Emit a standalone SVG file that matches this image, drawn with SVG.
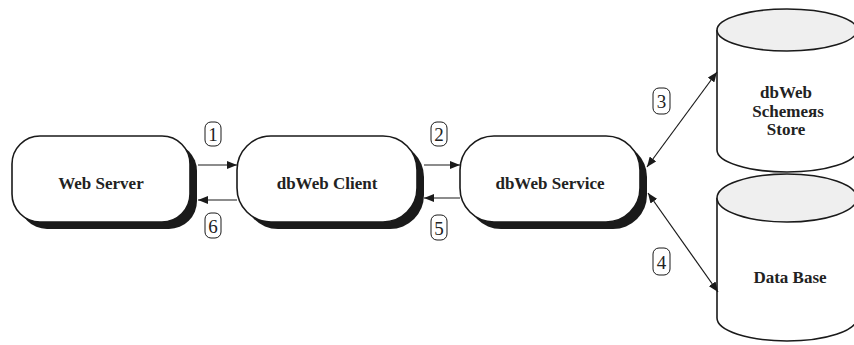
<svg xmlns="http://www.w3.org/2000/svg" width="854" height="345" viewBox="0 0 854 345">
<style>
.box{fill:#fff;stroke:#1a1a1a;stroke-width:1.6}
.sh{fill:#1a1a1a}
.t{font-family:"Liberation Serif","Times New Roman",serif;font-weight:bold;font-size:17px;fill:#222;text-anchor:middle}
.cyl{fill:#fff;stroke:#1a1a1a;stroke-width:1.6}
.top{fill:#efefef;stroke:#1a1a1a;stroke-width:1.6}
.ln{stroke:#1a1a1a;stroke-width:1.2;fill:none}
.lb{fill:#fff;stroke:#1a1a1a;stroke-width:1}
.n{font-family:"Liberation Serif","Times New Roman",serif;font-size:19px;fill:#222;text-anchor:middle}
</style>
<defs>
<marker id="ah" viewBox="0 0 10 8" refX="10" refY="4" markerWidth="10" markerHeight="8" markerUnits="userSpaceOnUse" orient="auto-start-reverse">
<path d="M0,0 L10,4 L0,8 z" fill="#1a1a1a"/>
</marker>
</defs>
<g id="web-server">
<rect class="sh" x="19" y="143" width="178" height="86" rx="28"/>
<rect class="box" x="12" y="136" width="178" height="86" rx="28"/>
<text class="t" x="101" y="189">Web Server</text>
</g>
<g id="dbweb-client">
<rect class="sh" x="244" y="143" width="180" height="86" rx="34"/>
<rect class="box" x="237" y="136" width="180" height="86" rx="34"/>
<text class="t" x="327" y="189">dbWeb Client</text>
</g>
<g id="dbweb-service">
<rect class="sh" x="467" y="143" width="180" height="86" rx="34"/>
<rect class="box" x="460" y="136" width="180" height="86" rx="34"/>
<text class="t" x="550" y="189">dbWeb Service</text>
</g>
<g id="schemes-store">
<path class="cyl" d="M717,30 V150 A70,22 0 0 0 857,150 V30"/>
<ellipse class="top" cx="787" cy="30" rx="70" ry="21"/>
<text class="t" x="786" y="98">dbWeb</text>
<text class="t" x="788" y="117">Schemeяs</text>
<text class="t" x="786" y="135">Store</text>
</g>
<g id="data-base">
<path class="cyl" d="M717,198 V318 A70,23 0 0 0 857,318 V198"/>
<ellipse class="top" cx="787" cy="198" rx="70" ry="24"/>
<text class="t" x="790" y="283">Data Base</text>
</g>
<g id="connectors">
<line class="ln" x1="198" y1="165" x2="237" y2="165" marker-end="url(#ah)"/>
<line class="ln" x1="237" y1="200" x2="198" y2="200" marker-end="url(#ah)"/>
<line class="ln" x1="424" y1="165" x2="460" y2="165" marker-end="url(#ah)"/>
<line class="ln" x1="460" y1="198" x2="424" y2="198" marker-end="url(#ah)"/>
<line class="ln" x1="647" y1="167" x2="717" y2="72" marker-start="url(#ah)" marker-end="url(#ah)"/>
<line class="ln" x1="648" y1="193" x2="718" y2="292" marker-start="url(#ah)" marker-end="url(#ah)"/>
</g>
<g id="labels">
<rect class="lb" x="205" y="122" width="16" height="24" rx="6"/>
<text class="n" x="213" y="141">1</text>
<rect class="lb" x="205" y="213" width="16" height="25" rx="6"/>
<text class="n" x="213" y="233">6</text>
<rect class="lb" x="431" y="122" width="16" height="24" rx="6"/>
<text class="n" x="439" y="141">2</text>
<rect class="lb" x="431" y="215" width="16" height="25" rx="6"/>
<text class="n" x="439" y="235">5</text>
<rect class="lb" x="653" y="88" width="17" height="26" rx="6"/>
<text class="n" x="661.5" y="108">3</text>
<rect class="lb" x="653" y="248" width="17" height="27" rx="6"/>
<text class="n" x="661.5" y="269">4</text>
</g>
</svg>
